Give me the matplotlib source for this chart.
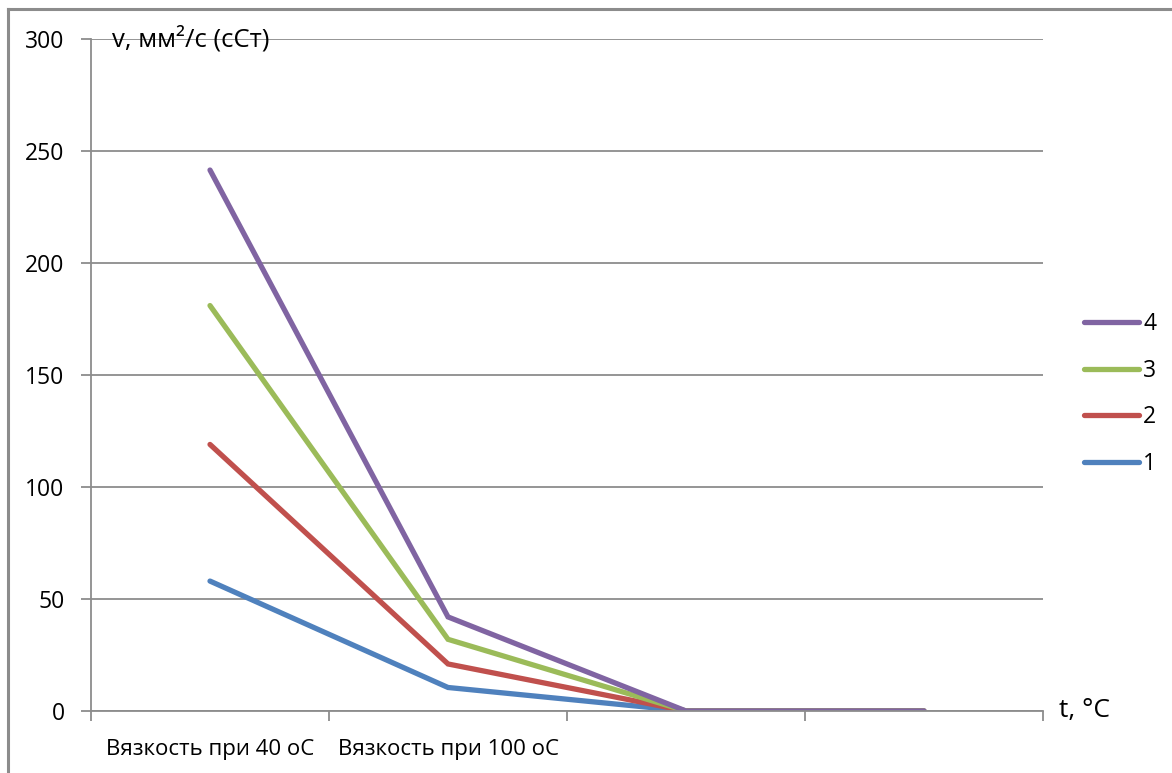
import matplotlib as mpl
mpl.use('Agg')
import matplotlib.pyplot as plt
from matplotlib.lines import Line2D
import numpy as np

plt.rcParams['font.family'] = ['Open Sans', 'DejaVu Sans']

# data
categories = ["Вязкость при 40 оС", "Вязкость при 100 оС", "", ""]
s1 = [58, 10.5, 0, 0]
s2 = [119, 21, 0, 0]
s3 = [181, 32, 0, 0]
s4 = [241.5, 42, 0, 0]
series_names = ["1", "2", "3", "4"]
colors = ["#4F81BD", "#C0504D", "#9BBB59", "#8064A2"]

fig = plt.figure(figsize=(11.72, 7.73), dpi=100)
ax = fig.add_axes([91/1172, 62/773, 952/1172, 672/773])

x = np.arange(len(categories)) + 0.5
lines = []
for vals, name, c in zip([s1, s2, s3, s4], series_names, colors):
    ln, = ax.plot(x, vals, color=c, lw=3.8, label=name, solid_capstyle='round',
                  solid_joinstyle='miter')
    lines.append(ln)

ax.set_xlim(0, len(categories))
ax.set_ylim(0, 300)
ax.set_yticks(np.arange(0, 301, 50))
ax.yaxis.grid(True, color='#8c8c8c', lw=1.3)
ax.set_axisbelow(True)

ax.set_xticks(np.arange(0, len(categories) + 1))
ax.set_xticklabels([])
ax.set_xticks(x, minor=True)
ax.set_xticklabels(categories, minor=True, fontsize=16)
ax.tick_params(axis='x', which='minor', length=0, pad=20)
ax.tick_params(axis='x', which='major', length=7, color='#8c8c8c', width=1.3, direction='out')
ax.tick_params(axis='y', length=7, color='#8c8c8c', width=1.3, labelsize=16.5, pad=12)

for side in ['top', 'right']:
    ax.spines[side].set_visible(False)
for side in ['left', 'bottom']:
    ax.spines[side].set_color('#8c8c8c')
    ax.spines[side].set_linewidth(1.3)

ax.text(0.022, 1.0, "v, мм²/с (сСт)", transform=ax.transAxes, fontsize=18.5,
        va='center', ha='left')
ax.text(1.017, 0.0, "t, °C", transform=ax.transAxes, fontsize=19,
        va='center', ha='left')

leg = fig.legend(lines[::-1], series_names[::-1], loc='center left',
                 bbox_to_anchor=(1063/1172, 1 - 394/773), frameon=False,
                 fontsize=16.5, handlelength=2.4, handletextpad=0.2,
                 labelspacing=1.0)

# chart border
fig.add_artist(Line2D([8/1172, 8/1172], [0, 1 - 9/773], color='#8c8c8c', lw=2.2))
fig.add_artist(Line2D([8/1172, 1], [1 - 9/773, 1 - 9/773], color='#8c8c8c', lw=2.2))

plt.savefig('out.png', dpi=100)
